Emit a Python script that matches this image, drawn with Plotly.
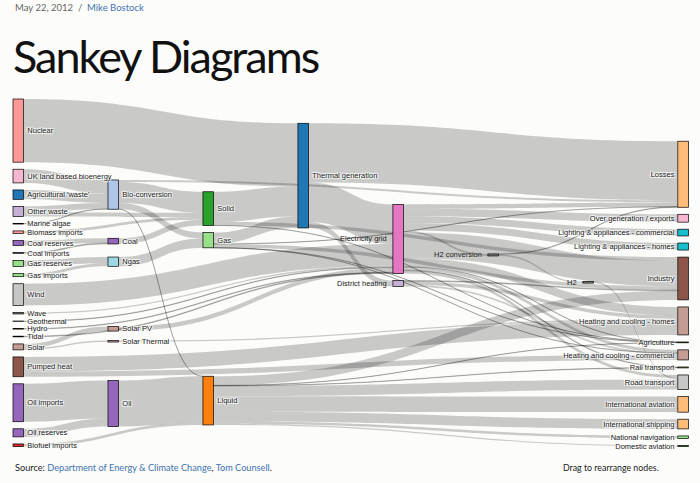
import plotly.graph_objects as go

node_names = ["Agricultural 'waste'", "Bio-conversion", "Liquid", "Losses", "Solid", "Gas",
    "Biofuel imports", "Biomass imports", "Coal imports", "Coal", "Coal reserves",
    "District heating", "Industry", "Heating and cooling - commercial",
    "Heating and cooling - homes", "Electricity grid", "Over generation / exports",
    "H2 conversion", "Road transport", "Agriculture", "Rail transport",
    "Lighting & appliances - commercial", "Lighting & appliances - homes",
    "Gas imports", "Ngas", "Gas reserves", "Thermal generation", "Geothermal", "H2",
    "Hydro", "International shipping", "Domestic aviation", "International aviation",
    "National navigation", "Marine algae", "Nuclear", "Oil imports", "Oil",
    "Oil reserves", "Other waste", "Pumped heat", "Solar PV", "Solar Thermal", "Solar",
    "Tidal", "UK land based bioenergy", "Wave", "Wind"]

link_source = [0, 1, 1, 1, 1, 6, 7, 8, 10, 9, 11, 11, 11, 15, 15, 15, 15, 15, 15, 15, 15, 15,
    15, 15, 23, 25, 5, 5, 5, 5, 5, 27, 17, 17, 28, 29, 2, 2, 2, 2, 2, 2, 2, 2, 34, 24, 35, 36,
    38, 37, 39, 39, 40, 40, 41, 42, 43, 43, 4, 4, 4, 26, 26, 26, 44, 45, 46, 47]
link_target = [1, 2, 3, 4, 5, 2, 4, 9, 9, 4, 12, 13, 14, 16, 14, 17, 12, 18, 19, 13, 3, 20, 21,
    22, 24, 24, 13, 3, 26, 19, 12, 15, 28, 3, 18, 15, 12, 30, 18, 31, 32, 19, 33, 20, 1, 5, 26,
    37, 37, 2, 4, 1, 14, 13, 15, 14, 42, 41, 19, 26, 12, 15, 3, 11, 15, 1, 15, 15]
link_value = [124.729, 0.597, 26.862, 280.322, 81.144, 35, 35, 11.606, 63.965, 75.571, 10.639,
    22.505, 46.184, 104.453, 113.726, 27.14, 342.165, 37.797, 4.412, 40.858, 56.691, 7.863,
    90.008, 93.494, 40.719, 82.233, 0.129, 1.401, 151.891, 2.096, 48.58, 7.013, 20.897, 6.242,
    20.897, 6.995, 121.066, 128.69, 135.835, 14.458, 206.267, 3.64, 33.218, 4.413, 4.375,
    122.952, 839.978, 504.287, 107.703, 611.99, 56.587, 77.81, 193.026, 70.672, 59.901,
    19.263, 19.263, 59.901, 0.882, 400.12, 46.477, 525.531, 787.129, 79.329, 9.452, 182.01,
    19.013, 289.366]

cat20 = ["#1f77b4", "#aec7e8", "#ff7f0e", "#ffbb78", "#2ca02c", "#98df8a", "#d62728",
    "#ff9896", "#9467bd", "#c5b0d5", "#8c564b", "#c49c94", "#e377c2", "#f7b6d2", "#7f7f7f",
    "#c7c7c7", "#bcbd22", "#dbdb8d", "#17becf", "#9edae5"]

# ---------- classic d3 sankey layout (nodeWidth 15, nodePadding 10, 32 iterations) ----------
W0, H0, NW, NP, ITER = 958.0, 493.0, 15.0, 10.0, 32
N = len(node_names)
src_links = [[] for _ in range(N)]
tgt_links = [[] for _ in range(N)]
for i, (s, t) in enumerate(zip(link_source, link_target)):
    src_links[s].append(i)
    tgt_links[t].append(i)
value = [max(sum(link_value[i] for i in src_links[k]), sum(link_value[i] for i in tgt_links[k]))
         for k in range(N)]

col = [0] * N
remaining, c = list(range(N)), 0
while remaining:
    nxt = []
    for k in remaining:
        col[k] = c
        nxt.extend(link_target[i] for i in src_links[k])
    remaining, c = nxt, c + 1
for k in range(N):
    if not src_links[k]:
        col[k] = c - 1
kx = (W0 - NW) / (c - 1)
by_col = [[k for k in range(N) if col[k] == cc] for cc in sorted(set(col))]

ky = min((H0 - (len(g) - 1) * NP) / sum(value[k] for k in g) for g in by_col)
ny = [0.0] * N
dy = [value[k] * ky for k in range(N)]
for g in by_col:
    for i, k in enumerate(g):
        ny[k] = float(i)

def center(k):
    return ny[k] + dy[k] / 2

def resolve():
    for g in by_col:
        g.sort(key=lambda k: ny[k])
        y0 = 0.0
        for k in g:
            d = y0 - ny[k]
            if d > 0:
                ny[k] += d
            y0 = ny[k] + dy[k] + NP
        d = y0 - NP - H0
        if d > 0:
            ny[g[-1]] -= d
            y0 = ny[g[-1]]
            for k in reversed(g[:-1]):
                d = ny[k] + dy[k] + NP - y0
                if d > 0:
                    ny[k] -= d
                y0 = ny[k]

resolve()
alpha = 1.0
for _ in range(ITER):
    alpha *= 0.99
    for g in reversed(by_col):
        for k in g:
            if src_links[k]:
                yy = sum(center(link_target[i]) * link_value[i] for i in src_links[k]) / \
                     sum(link_value[i] for i in src_links[k])
                ny[k] += (yy - center(k)) * alpha
    resolve()
    for g in by_col:
        for k in g:
            if tgt_links[k]:
                yy = sum(center(link_source[i]) * link_value[i] for i in tgt_links[k]) / \
                     sum(link_value[i] for i in tgt_links[k])
                ny[k] += (yy - center(k)) * alpha
    resolve()

node_x = [(col[k] * kx + NW / 2) / W0 for k in range(N)]
node_y = [center(k) / H0 for k in range(N)]

# ---------- colours ----------
domain_map = {}
node_colors = []
for nme in node_names:
    key = nme.split(" ")[0]
    if key not in domain_map:
        domain_map[key] = cat20[len(domain_map) % 20]
    node_colors.append(domain_map[key])

def darker(hexc, k=2):
    f = 0.7 ** k
    r, g, b = (int(hexc[i:i + 2], 16) for i in (1, 3, 5))
    return "rgb(%d,%d,%d)" % (round(r * f), round(g * f), round(b * f))

# ---------- placement on the page ----------
FW, FH = 700, 483
S = 0.705
X0, Y0 = 13.0, 99.0
dom_x = [X0 / FW, (X0 + W0 * S) / FW]
dom_y = [1 - (Y0 + H0 * S) / FH, 1 - Y0 / FH]
LABEL_FONT = dict(family="Liberation Sans, Arial, sans-serif", size=7.5, color="#222")

# labels: right of node in left half, left of node in right half (as in the d3 original)
left_side = [col[k] * kx >= W0 / 2 for k in range(N)]
last_col = max(col)
plotly_labels = []
annotations = []
for k in range(N):
    if left_side[k] and col[k] != last_col:
        plotly_labels.append("")
        annotations.append(dict(
            text=node_names[k], xref="paper", yref="paper",
            x=(X0 + (col[k] * kx - 6) * S) / FW, y=1 - (Y0 + center(k) * S) / FH,
            xanchor="right", yanchor="middle", showarrow=False, font=LABEL_FONT))
    else:
        plotly_labels.append(node_names[k])

fig = go.Figure(go.Sankey(
    arrangement="fixed",
    domain=dict(x=dom_x, y=dom_y),
    node=dict(label=plotly_labels, customdata=node_names,
              hovertemplate="%{customdata}<br>%{value:.1f} TWh<extra></extra>",
              x=node_x, y=node_y, color=node_colors, pad=NP * S, thickness=NW * S,
              line=dict(color=[darker(cc) for cc in node_colors], width=0.7)),
    link=dict(source=link_source, target=link_target, value=link_value,
              color="rgba(0,0,0,0.2)", line=dict(width=0)),
    textfont=LABEL_FONT,
))

annotations += [
    dict(text="<span style='color:#666'>May 22, 2012  /  </span><span style='color:#3f73b0'>Mike Bostock</span>",
         x=X0 / FW, y=1 - 8 / FH, xref="paper", yref="paper", xanchor="left", yanchor="middle",
         showarrow=False, font=dict(family="Lato, sans-serif", size=9.5)),
    dict(text="<span style='letter-spacing:-2px'>Sankey Diagrams</span>", x=11 / FW, y=1 - 56 / FH,
         xref="paper", yref="paper", xanchor="left", yanchor="middle", showarrow=False,
         font=dict(family="Lato, sans-serif", size=45, color="#111")),
    dict(text="Source: <span style='color:#3f73b0'>Department of Energy &amp; Climate Change</span>, <span style='color:#3f73b0'>Tom Counsell</span>.",
         x=X0 / FW, y=1 - 467 / FH, xref="paper", yref="paper", xanchor="left", yanchor="middle",
         showarrow=False, font=dict(family="Lato, sans-serif", size=9.2, color="#222")),
    dict(text="Drag to rearrange nodes.", x=561 / FW, y=1 - 467 / FH, xref="paper", yref="paper",
         xanchor="left", yanchor="middle", showarrow=False,
         font=dict(family="Lato, sans-serif", size=8.8, color="#222")),
]

fig.update_layout(
    width=FW, height=FH, margin=dict(l=0, r=0, t=0, b=0),
    paper_bgcolor="#fcfcfa", plot_bgcolor="#fcfcfa",
    annotations=annotations,
)

fig.write_html("out.html", config={"displayModeBar": False},
               post_script="document.body.style.margin='0';document.body.style.background='#fcfcfa';")
